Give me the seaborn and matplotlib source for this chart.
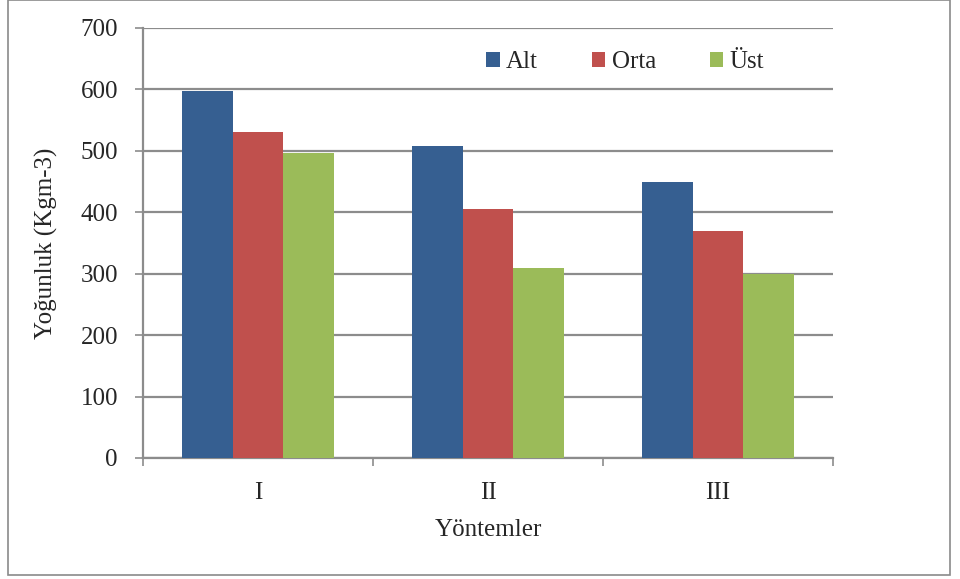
import matplotlib
matplotlib.use("Agg")
import matplotlib.pyplot as plt
import seaborn as sns
import pandas as pd
from matplotlib.patches import Rectangle

methods = ["I", "II", "III"]
levels = ["Alt", "Orta", "Üst"]
alt = [598, 508, 449]
orta = [531, 405, 370]
ust = [496, 309, 300]
yticks = [0, 100, 200, 300, 400, 500, 600, 700]

df = pd.DataFrame({
    "Yöntem": methods * 3,
    "Seviye": [levels[0]] * 3 + [levels[1]] * 3 + [levels[2]] * 3,
    "Yoğunluk": alt + orta + ust,
})

sns.set_theme(style="white")
plt.rcParams["font.family"] = ["Liberation Serif", "DejaVu Serif"]

palette = {"Alt": "#365F91", "Orta": "#C0504D", "Üst": "#9BBB59"}
fs = 18

fig = plt.figure(figsize=(9.6, 5.79), dpi=100)
ax = fig.add_axes([143 / 960, 1 - 458 / 579, 690 / 960, 430 / 579])

sns.barplot(data=df, x="Yöntem", y="Yoğunluk", hue="Seviye", order=methods,
            hue_order=levels, palette=palette, width=0.665, saturation=1,
            edgecolor="none", linewidth=0, ax=ax, zorder=3)

grey = "#8C8C8C"
ax.set_ylim(0, 700)
ax.set_xlim(-0.5, 2.5)
ax.set_yticks(yticks)
ax.yaxis.grid(True, color=grey, linewidth=1.6, zorder=0)
ax.set_axisbelow(True)
for side in ["top", "right"]:
    ax.spines[side].set_visible(False)
for side in ["left", "bottom"]:
    ax.spines[side].set_color(grey)
    ax.spines[side].set_linewidth(1.6)

ax.tick_params(axis="y", which="major", direction="out", length=6, width=1.2,
               color=grey, labelsize=fs, pad=12, left=True)
ax.set_xticks(range(len(methods)))
ax.set_xticklabels(methods)
ax.set_xticks([-0.5, 0.5, 1.5, 2.5], minor=True)
ax.tick_params(axis="x", which="major", length=0, labelsize=fs, pad=17)
ax.tick_params(axis="x", which="minor", direction="out", length=6, width=1.2,
               color=grey, bottom=True)

ax.set_xlabel("Yöntemler", fontsize=fs, labelpad=11)
ax.set_ylabel("Yoğunluk (Kgm-3)", fontsize=fs, labelpad=16)

handles, labels = ax.get_legend_handles_labels()
ax.legend(handles, labels, loc="center left", bbox_to_anchor=(0.497, 0.921),
          ncol=3, frameon=False, fontsize=fs, handlelength=0.55,
          handleheight=0.55, handletextpad=0.25, columnspacing=2.15,
          borderpad=0, borderaxespad=0)

fig.patches.append(Rectangle((8 / 960, 4 / 579), 942 / 960, 575 / 579,
                             transform=fig.transFigure, fill=False,
                             edgecolor="#8A8A8A", linewidth=1.2))

fig.savefig("out.png", dpi=100)
